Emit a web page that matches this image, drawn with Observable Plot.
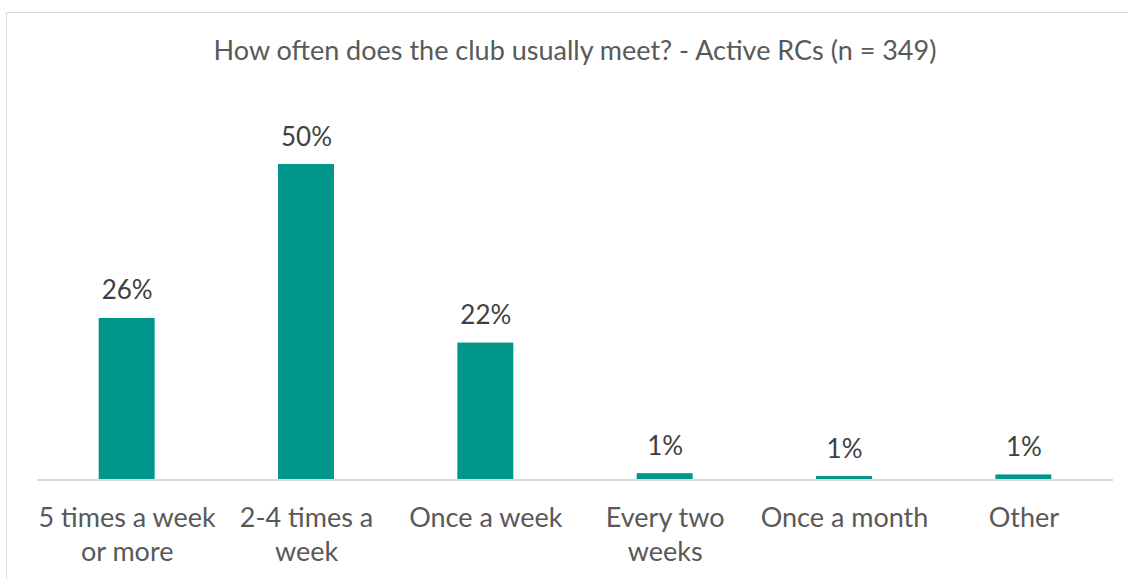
<!DOCTYPE html>
<html>
<head>
<meta charset="utf-8">
<script src="https://cdn.jsdelivr.net/npm/d3@7"></script>
<script src="https://cdn.jsdelivr.net/npm/@observablehq/plot@0.6"></script>
<style>
  html, body { margin: 0; padding: 0; background: #fff; }
  body { width: 1128px; height: 579px; overflow: hidden; position: relative; font-family: Lato, "Open Sans", sans-serif; }
  #frame { position: absolute; left: 6px; top: 12px; width: 1140px; height: 600px; border: 1.5px solid #d9d9d9; box-sizing: border-box; }
  #title { position: relative; width: 1150px; height: 100px; text-align: center; color: #595959; font-size: 27px; line-height: 30px; padding-top: 35px; box-sizing: border-box; }
  #chart { position: relative; }
</style>
</head>
<body>
<div id="frame"></div>
<div id="title">How often does the club usually meet? - Active RCs (n = 349)</div>
<div id="chart"></div>
<script>
const categories = ["5 times a week or more", "2-4 times a week", "Once a week", "Every two weeks", "Once a month", "Other"];
const tickLabels = ["5 times a week\nor more", "2-4 times a\nweek", "Once a week", "Every two\nweeks", "Once a month", "Other"];
const values = [25.6, 50, 21.7, 1.0, 0.55, 0.8];

const data = categories.map((c, i) => ({category: c, value: values[i], label: Math.round(values[i]) + "%"}));
const tickMap = new Map(categories.map((c, i) => [c, tickLabels[i]]));

const chart = Plot.plot({
  width: 1128,
  height: 479,
  marginLeft: 37,
  marginRight: 15,
  marginTop: 64,
  marginBottom: 99.5,
  style: {fontFamily: "Lato, 'Open Sans', sans-serif", background: "transparent", overflow: "visible"},
  x: {domain: categories, paddingInner: 0.688, paddingOuter: 0.344, round: false, label: null},
  y: {domain: [0, 50], axis: null},
  marks: [
    Plot.barY(data, {x: "category", y: "value", fill: "#00968c"}),
    Plot.ruleY([0], {stroke: "#d9d9d9", strokeWidth: 2}),
    Plot.text(data, {x: "category", y: "value", text: "label", lineAnchor: "bottom", dy: -19, fontSize: 26, fill: "#404040"}),
    Plot.axisX({tickSize: 0, tickPadding: 22, fontSize: 27, lineHeight: 1.285, tickFormat: d => tickMap.get(d), color: "#595959", label: null})
  ]
});
document.getElementById("chart").appendChild(chart);
</script>
</body>
</html>
